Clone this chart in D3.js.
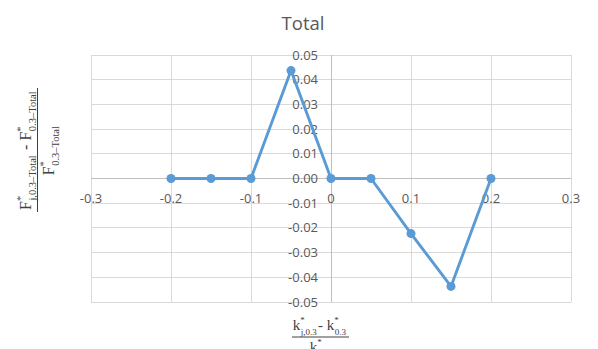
<!DOCTYPE html>
<html>
<head>
<meta charset="utf-8">
<script src="https://cdn.jsdelivr.net/npm/d3@7"></script>
<style>
  body { margin: 0; background: #fff; }
  svg { display: block; }
</style>
</head>
<body>
<div id="chart"></div>
<script>
// ---- data ----
const title = "Total";
const xValues = [-0.2, -0.15, -0.1, -0.05, 0, 0.05, 0.1, 0.15, 0.2];
const yValues = [0, 0, 0, 0.0437, 0, 0, -0.0223, -0.0437, 0];
const xTicks = [-0.3, -0.2, -0.1, 0, 0.1, 0.2, 0.3];
const xTickLabels = ["-0.3", "-0.2", "-0.1", "0", "0.1", "0.2", "0.3"];
const yTicks = [0.05, 0.04, 0.03, 0.02, 0.01, 0, -0.01, -0.02, -0.03, -0.04, -0.05];
const yTickLabels = ["0.05", "0.04", "0.03", "0.02", "0.01", "0.00", "-0.01", "-0.02", "-0.03", "-0.04", "-0.05"];

const W = 598, H = 349;
const svg = d3.select("#chart").append("svg").attr("width", W).attr("height", H);
svg.append("rect").attr("width", W).attr("height", H).attr("fill", "#fff");

const x = d3.scaleLinear().domain([-0.3, 0.3]).range([91, 571]);
const y = d3.scaleLinear().domain([-0.05, 0.05]).range([302, 55]);

const grid = svg.append("g");
grid.selectAll("line.h").data(yTicks).join("line")
  .attr("x1", x(-0.3)).attr("x2", x(0.3))
  .attr("y1", d => y(d)).attr("y2", d => y(d))
  .attr("stroke", "#d9d9d9").attr("stroke-width", 1).attr("shape-rendering", "crispEdges");
grid.selectAll("line.v").data(xTicks).join("line")
  .attr("x1", d => x(d)).attr("x2", d => x(d))
  .attr("y1", y(0.05)).attr("y2", y(-0.05))
  .attr("stroke", "#d9d9d9").attr("stroke-width", 1).attr("shape-rendering", "crispEdges");

// axes lines
svg.append("line").attr("x1", x(-0.3)).attr("x2", x(0.3)).attr("y1", y(0)).attr("y2", y(0))
  .attr("stroke", "#bfbfbf").attr("shape-rendering", "crispEdges");
svg.append("line").attr("x1", x(0)).attr("x2", x(0)).attr("y1", y(0.05)).attr("y2", y(-0.05))
  .attr("stroke", "#bfbfbf").attr("shape-rendering", "crispEdges");

const fontTick = "'Open Sans', 'Liberation Sans', sans-serif";

svg.append("g").selectAll("text").data(yTicks).join("text")
  .attr("x", x(0) - 13).attr("y", d => y(d)).attr("dy", "0.35em")
  .attr("text-anchor", "end")
  .attr("font-family", fontTick).attr("font-size", 13).attr("fill", "#595959")
  .text((d, i) => yTickLabels[i]);

svg.append("g").selectAll("text").data(xTicks).join("text")
  .attr("x", d => x(d)).attr("y", y(0) + 24)
  .attr("text-anchor", "middle")
  .attr("font-family", fontTick).attr("font-size", 13).attr("fill", "#595959")
  .text((d, i) => xTickLabels[i]);

// series line
const pts = xValues.map((v, i) => [v, yValues[i]]);
svg.append("path").datum(pts)
  .attr("fill", "none").attr("stroke", "#5B9BD5").attr("stroke-width", 2.9)
  .attr("stroke-linejoin", "round")
  .attr("d", d3.line().x(d => x(d[0])).y(d => y(d[1])));
svg.append("g").selectAll("circle").data(pts).join("circle")
  .attr("cx", d => x(d[0])).attr("cy", d => y(d[1])).attr("r", 4.5)
  .attr("fill", "#5B9BD5");

// title
svg.append("text").attr("x", 303).attr("y", 30).attr("text-anchor", "middle")
  .attr("font-family", fontTick).attr("font-size", 18.5).attr("fill", "#595959")
  .text(title);

const serif = "'Liberation Serif', 'DejaVu Serif', serif";
function term(textSel, base, sub, baseSize, subSize) {
  textSel.append("tspan").attr("font-size", baseSize).text(base);
  textSel.append("tspan").attr("font-size", subSize).attr("dy", -baseSize * 0.45).text("*");
  textSel.append("tspan").attr("font-size", subSize).attr("dx", -subSize * 0.45).attr("dy", baseSize * 0.75).text(sub);
  textSel.append("tspan").attr("font-size", baseSize).attr("dy", -baseSize * 0.3).text("\u200A");
}

// y-axis title (rotated fraction)
const yt = svg.append("g").attr("transform", "translate(0,150) rotate(-90)");
const yNum = yt.append("text").attr("x", 0).attr("y", 31).attr("text-anchor", "middle")
  .attr("font-family", serif).attr("fill", "#404040");
term(yNum, "F", "j,0.3\u2013Total", 16, 10.5);
yNum.append("tspan").attr("font-size", 16).text(" - ");
term(yNum, "F", "0.3\u2013Total", 16, 10.5);
yt.append("line").attr("x1", -62).attr("x2", 62).attr("y1", 37.5).attr("y2", 37.5)
  .attr("stroke", "#404040").attr("stroke-width", 1);
const yDen = yt.append("text").attr("x", 0).attr("y", 54).attr("text-anchor", "middle")
  .attr("font-family", serif).attr("fill", "#404040");
term(yDen, "F", "0.3\u2013Total", 16, 10.5);

// x-axis title (fraction, partly below the bottom edge as in the reference)
const xt = svg.append("g").attr("transform", "translate(320,0)");
const xNum = xt.append("text").attr("x", 0).attr("y", 330).attr("text-anchor", "middle")
  .attr("font-family", serif).attr("fill", "#404040");
term(xNum, "k", "j,0.3", 15, 9);
xNum.append("tspan").attr("font-size", 15).text("- ");
term(xNum, "k", "0.3", 15, 9);
xt.append("line").attr("x1", -28).attr("x2", 29).attr("y1", 337).attr("y2", 337)
  .attr("stroke", "#404040").attr("stroke-width", 1);
const xDen = xt.append("text").attr("x", 0).attr("y", 352).attr("text-anchor", "middle")
  .attr("font-family", serif).attr("fill", "#404040");
term(xDen, "k", "0.3", 15, 9);
</script>
</body>
</html>
